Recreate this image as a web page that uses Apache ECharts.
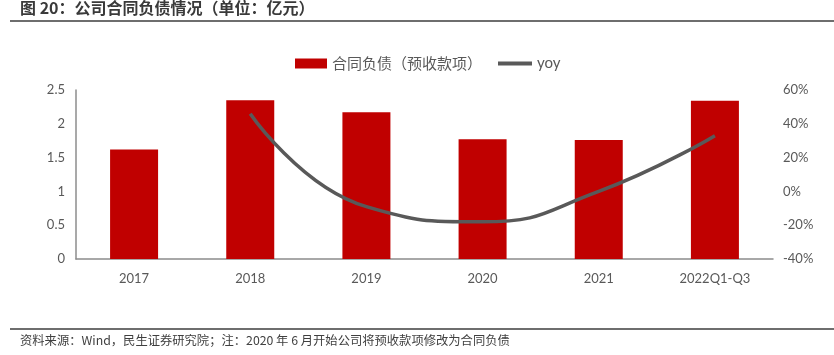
<!DOCTYPE html>
<html>
<head>
<meta charset="utf-8">
<script src="https://cdn.jsdelivr.net/npm/echarts@6/dist/echarts.min.js"></script>
<style>
html,body{margin:0;padding:0;background:#fff;}
#c{width:834px;height:355px;}
</style>
</head>
<body>
<div id="c"></div>
<script>
const categories = ['2017', '2018', '2019', '2020', '2021', '2022Q1-Q3'];
const contractLiabilities = [1.62, 2.35, 2.17, 1.77, 1.76, 2.34];
const yoy = [null, 46, -9, -18, 0, 33];
const leftTicks = { min: 0, max: 2.5, interval: 0.5 };
const rightTicks = { min: -40, max: 60, interval: 20 };

const titleText = '图 20：公司合同负债情况（单位：亿元）';
const footText = '资料来源：Wind，民生证券研究院；注：2020 年 6 月开始公司将预收款项修改为合同负债';

const chart = echarts.init(document.getElementById('c'), null, { renderer: 'canvas' });
const numFont = 'Lato, "Open Sans", "Noto Sans CJK SC", sans-serif';
const cjkFont = '"Noto Sans CJK SC", "Noto Sans", sans-serif';

chart.setOption({
  animation: false,
  backgroundColor: '#fff',
  grid: { left: 76, right: 61, top: 90, bottom: 96, containLabel: false },
  legend: [
    {
      left: 290, top: 51,
      itemWidth: 32, itemHeight: 10,
      textStyle: { color: '#595959', fontSize: 15, fontFamily: cjkFont },
      data: [{ name: '合同负债（预收款项）', icon: 'rect' }]
    },
    {
      left: 493, top: 51,
      itemWidth: 34, itemHeight: 4, itemGap: 4,
      textStyle: { color: '#595959', fontSize: 15, fontFamily: numFont },
      data: [{ name: 'yoy', icon: 'rect' }]
    }
  ],
  xAxis: {
    type: 'category',
    data: categories,
    axisLine: { lineStyle: { color: '#8c8c8c', width: 1.5 } },
    axisTick: { show: false },
    axisLabel: { color: '#595959', fontSize: 13, fontFamily: numFont, margin: 13 }
  },
  yAxis: [
    {
      type: 'value', min: leftTicks.min, max: leftTicks.max, interval: leftTicks.interval,
      axisLine: { show: true, lineStyle: { color: '#8c8c8c', width: 1.5 } },
      axisTick: { show: false },
      splitLine: { show: false },
      axisLabel: { color: '#595959', fontSize: 13, fontFamily: numFont, margin: 11 }
    },
    {
      type: 'value', min: rightTicks.min, max: rightTicks.max, interval: rightTicks.interval,
      position: 'right',
      axisLine: { show: false },
      axisTick: { show: false },
      splitLine: { show: false },
      axisLabel: { color: '#595959', fontSize: 13, fontFamily: numFont, margin: 10, formatter: '{value}%' }
    }
  ],
  series: [
    {
      name: '合同负债（预收款项）',
      type: 'bar',
      data: contractLiabilities,
      barWidth: 48,
      itemStyle: { color: '#c00000' }
    },
    {
      name: 'yoy',
      type: 'line',
      yAxisIndex: 1,
      data: yoy,
      smooth: 0.5,
      symbol: 'none',
      lineStyle: { color: '#595959', width: 3.5 },
      itemStyle: { color: '#595959' }
    }
  ],
  graphic: [
    { type: 'text', left: 20, top: 0, style: { text: titleText, fill: '#3a3a3a', font: 'bold 16px ' + cjkFont } },
    { type: 'rect', shape: { x: 10, y: 20, width: 824, height: 2 }, style: { fill: '#6e6e6e' } },
    { type: 'rect', shape: { x: 10, y: 328, width: 824, height: 2 }, style: { fill: '#6e6e6e' } },
    { type: 'text', left: 20, top: 334, style: { text: footText, fill: '#404040', font: '12.3px ' + cjkFont } }
  ]
});
</script>
</body>
</html>
